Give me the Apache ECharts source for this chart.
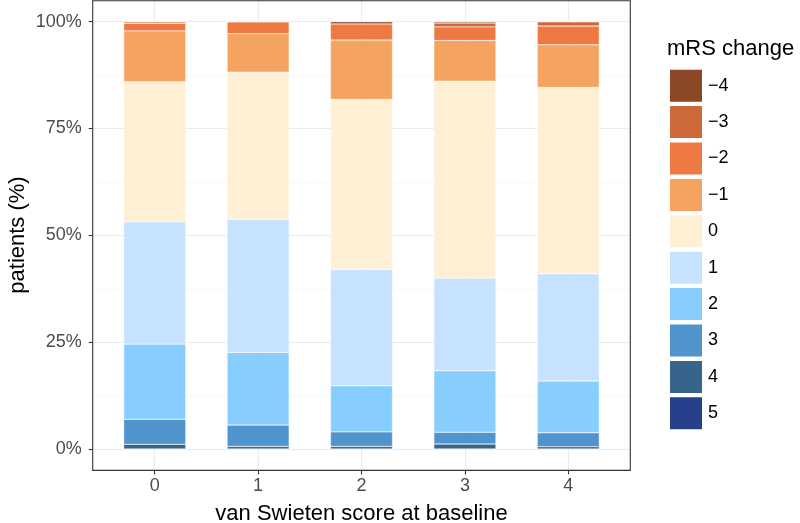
<!DOCTYPE html>
<html>
<head>
<meta charset="utf-8">
<script src="https://cdn.jsdelivr.net/npm/echarts@6/dist/echarts.min.js"></script>
<style>html,body{margin:0;padding:0;background:#fff;}#c{width:800px;height:523px;}</style>
</head>
<body>
<div id="c"></div>
<script>
// ---- data (percent of patients per baseline van Swieten score) ----
const categories = ['0', '1', '2', '3', '4'];
const yTickValues = [0, 25, 50, 75, 100];
const mrs5  = [0,    0,     0,    0,    0];
const mrs4  = [1.1,  0.6,   0.6,  1.17, 0.55];
const mrs3  = [5.85, 5.0,   3.4,  2.73, 3.25];
const mrs2  = [17.6, 17.0,  10.8, 14.4, 12.1];
const mrs1  = [28.6, 31.15, 27.2, 21.7, 25.1];
const mrs0  = [32.8, 34.45, 39.8, 46.1, 43.6];
const mrsM1 = [11.9, 9.0,   13.9, 9.5,  10.0];
const mrsM2 = [1.8,  2.8,   3.8,  3.2,  4.4];
const mrsM3 = [0.35, 0,     0,    0.9,  1.0];
const mrsM4 = [0,    0,     0.5,  0.3,  0];

const seriesDefs = [
  { name: '5',  data: mrs5,  color: '#27408B' },
  { name: '4',  data: mrs4,  color: '#36648B' },
  { name: '3',  data: mrs3,  color: '#4F94CD' },
  { name: '2',  data: mrs2,  color: '#87CEFF' },
  { name: '1',  data: mrs1,  color: '#C6E2FF' },
  { name: '0',  data: mrs0,  color: '#FFEFD5' },
  { name: '\u22121', data: mrsM1, color: '#F4A460' },
  { name: '\u22122', data: mrsM2, color: '#EE7942' },
  { name: '\u22123', data: mrsM3, color: '#CD6839' },
  { name: '\u22124', data: mrsM4, color: '#8B4726' }
];

// ---- layout ----
const FONT = '"Liberation Sans", Arial, Helvetica, sans-serif';
const panel = { x: 92.7, y: 0.8, w: 537.6, h: 469.6 };
const unit = panel.w / 5.2;
const yTop = 21.7, yBottom = 449;

const chart = echarts.init(document.getElementById('c'), null, { renderer: 'canvas' });
const option = {
  animation: false,
  backgroundColor: '#ffffff',
  textStyle: { fontFamily: FONT },
  grid: [
    { left: panel.x, width: panel.w, top: yTop, height: yBottom - yTop },
    { left: panel.x + 0.1 * unit, width: 5 * unit, top: yTop, height: yBottom - yTop },
    { left: panel.x + 0.6 * unit, width: 4 * unit, top: panel.y, height: panel.h }
  ],
  xAxis: [
    { gridIndex: 0, type: 'value', show: false, min: 0, max: 1 },
    { gridIndex: 1, type: 'category', data: categories, show: false },
    { gridIndex: 2, type: 'value', min: 0, max: 4, interval: 1,
      axisLine: { show: false },
      axisTick: { show: true, length: 4, lineStyle: { color: '#333333', width: 1.1 } },
      axisLabel: { show: true, margin: 7, fontSize: 18, color: '#4D4D4D', fontFamily: FONT,
        formatter: v => categories[v] },
      splitLine: { show: true, lineStyle: { color: '#EBEBEB', width: 1.1 } } }
  ],
  yAxis: [
    { gridIndex: 0, type: 'value', min: 0, max: 100, interval: 25,
      axisLine: { show: false },
      axisTick: { show: true, length: 4, lineStyle: { color: '#333333', width: 1.1 } },
      axisLabel: { show: true, margin: 11, fontSize: 18, color: '#4D4D4D', fontFamily: FONT,
        formatter: v => (yTickValues.indexOf(v) >= 0 ? v + '%' : '') },
      splitLine: { show: true, lineStyle: { color: '#EBEBEB', width: 1.1 } },
      minorTick: { show: false, splitNumber: 2 },
      minorSplitLine: { show: true, lineStyle: { color: '#F2F2F2', width: 0.6 } } },
    { gridIndex: 1, type: 'value', min: 0, max: 100, show: false },
    { gridIndex: 2, type: 'value', min: 0, max: 1, show: false }
  ],
  legend: {
    orient: 'vertical',
    left: 668, top: 67.7,
    padding: 0,
    itemWidth: 34, itemHeight: 34, itemGap: 0.4,
    icon: 'rect',
    data: seriesDefs.map(s => s.name).reverse(),
    textStyle: { fontSize: 18, color: '#000', fontFamily: FONT },
    selectedMode: false
  },
  series: seriesDefs.map(s => ({
    name: s.name,
    type: 'bar',
    xAxisIndex: 1, yAxisIndex: 1,
    stack: 'total',
    barWidth: '60%',
    data: s.data,
    itemStyle: { color: s.color, borderColor: '#ffffff', borderWidth: 0.4 }
  })),
  graphic: [
    { type: 'rect', z: 100, silent: true,
      shape: { x: panel.x, y: panel.y, width: panel.w, height: panel.h },
      style: { fill: null, stroke: '#333333', lineWidth: 1.1 } },
    { type: 'text', x: 361.5, y: 514, z: 100,
      style: { text: 'van Swieten score at baseline', fontSize: 22, fontFamily: FONT, fill: '#000',
        textAlign: 'center', textVerticalAlign: 'middle' } },
    { type: 'text', x: 18, y: 235, rotation: Math.PI / 2, z: 100,
      style: { text: 'patients (%)', fontSize: 22, fontFamily: FONT, fill: '#000',
        textAlign: 'center', textVerticalAlign: 'middle' } },
    { type: 'text', x: 667, y: 49, z: 100,
      style: { text: 'mRS change', fontSize: 22, fontFamily: FONT, fill: '#000',
        textAlign: 'left', textVerticalAlign: 'middle' } }
  ]
};
chart.setOption(option);
</script>
</body>
</html>
